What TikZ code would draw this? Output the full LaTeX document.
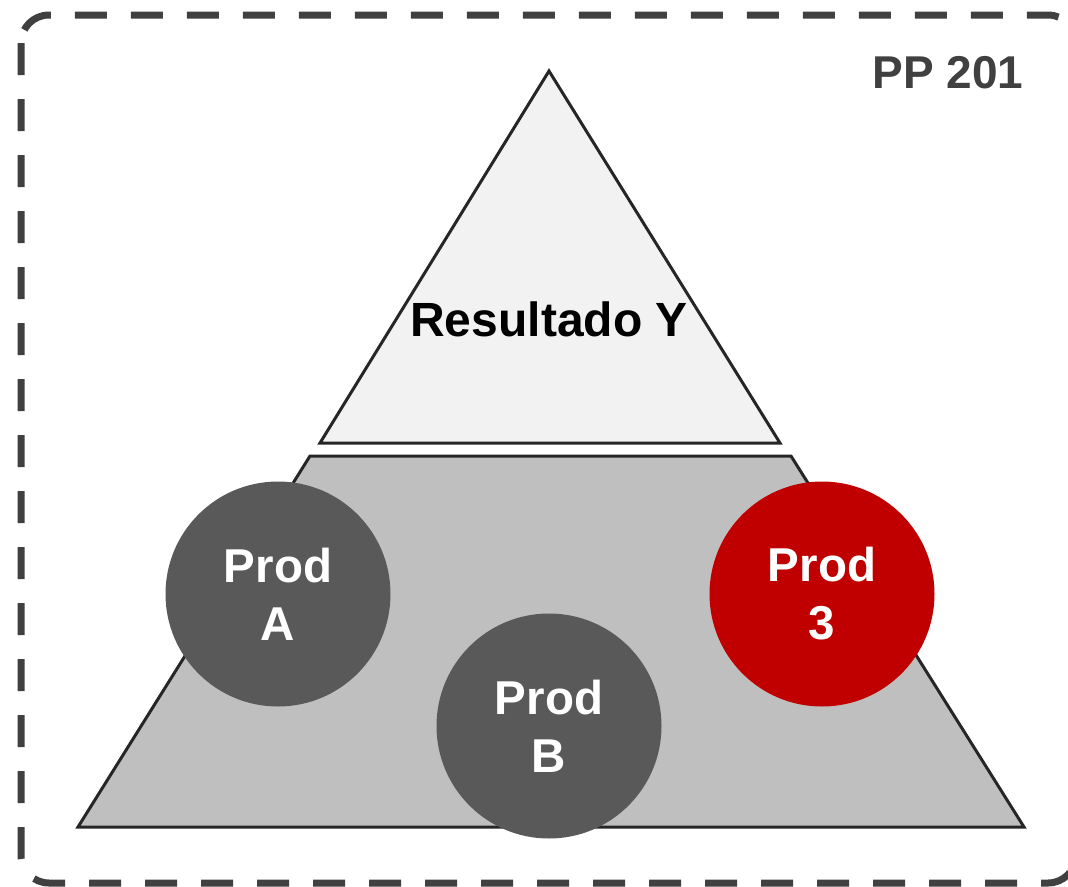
\documentclass[tikz,border=0pt]{standalone}
\usepackage{fontspec}
\setmainfont{Liberation Sans}
\usepackage{xcolor}
\definecolor{framegray}{HTML}{404040}
\definecolor{topfill}{HTML}{F2F2F2}
\definecolor{basefill}{HTML}{BFBFBF}
\definecolor{prodgray}{HTML}{595959}
\definecolor{prodred}{HTML}{C00000}
\definecolor{edgegray}{HTML}{262626}

\tikzset{
  prod/.style={circle, minimum size=225pt, inner sep=0pt, fill=prodgray,
    text=white, align=center, font=\fontsize{47.5}{58}\selectfont\bfseries},
  level/.style={draw=edgegray, line width=3pt, line join=miter},
}

\begin{document}
\begin{tikzpicture}[x=1pt, y=-1pt]
        \useasboundingbox (0,0) rectangle (1068,886);

        % dashed frame
        \draw[framegray, line width=7pt, dash pattern=on 32pt off 24pt,
              rounded corners=28pt] (21,15) rectangle (1076,883);
        \node[text=framegray, font=\fontsize{46}{54}\selectfont\bfseries,
              anchor=east] (pp) at (1027,73) {PP 201};

        % levels
        \draw[level, fill=topfill] (549,71) -- (780,443) -- (320,443) -- cycle;
        \draw[level, fill=basefill] (310,456) -- (791,456) -- (1024,827) -- (78,827) -- cycle;
        \node[font=\fontsize{48}{56}\selectfont\bfseries] (result) at (549,319) {Resultado Y};

        % products
        \node[prod] (proda) at (278,594) {Prod\\A};
        \node[prod] (prodb) at (549,726) {Prod\\B};
        \node[prod, fill=prodred] (prod3) at (822,594) {Prod\\3};
    \end{tikzpicture}
\end{document}
